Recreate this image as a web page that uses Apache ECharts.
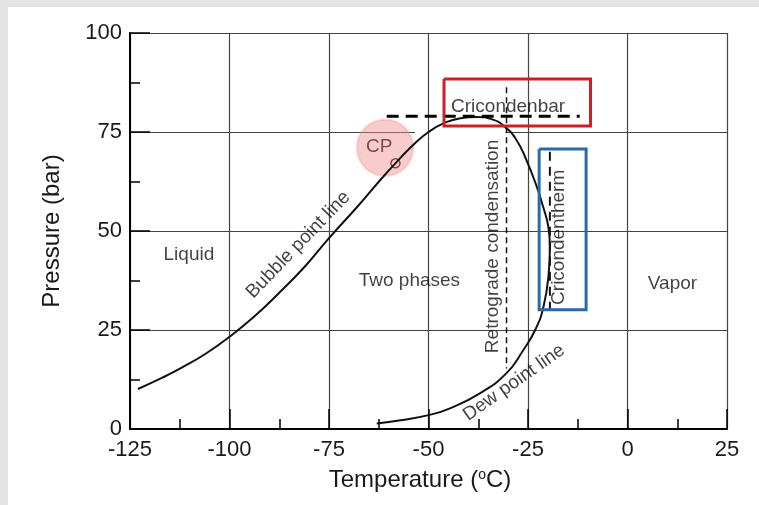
<!DOCTYPE html>
<html>
<head>
<meta charset="utf-8">
<script src="https://cdn.jsdelivr.net/npm/echarts@6/dist/echarts.min.js"></script>
<style>
html, body { margin: 0; padding: 0; background: #e3e3e3; }
#main { position: absolute; left: 8px; top: 7px; width: 751px; height: 498px; background: #fff; }
</style>
</head>
<body>
<div id="main"></div>
<script>
// phase envelope (bubble point line -> cricondenbar -> dew point line)
var envelopeT = [-123, -117, -112, -106, -100, -94, -88, -81, -75, -68, -62, -58.3, -54, -50, -46, -42, -38, -34, -30.8, -27.9, -25.4, -22.8, -21.2, -19.9, -19.5, -19.8, -21.1, -23.2, -26.2, -30.4, -37.1, -44.6, -50, -57, -63];
var envelopeP = [10.1, 12.9, 15.5, 19.0, 23.3, 28.2, 33.9, 41.1, 48.2, 56, 63, 67.1, 71.6, 75, 77.3, 78.5, 78.8, 78.2, 76.3, 73, 67.9, 61.2, 56.1, 51.1, 46, 39.3, 30.9, 25, 19.9, 14.1, 9, 5.2, 3.5, 2.2, 1.4];

var cricondenbarT = [-60.5, -12];
var cricondenbarP = [79, 79];
var retrogradeT = [-30.4, -30.4];
var retrogradeP = [86.3, 15.3];
var cricondenthermT = [-19.5, -19.5];
var cricondenthermP = [70, 28.8];

var redBoxT = [-46.1, -9.3, -9.3, -46.1, -46.1];
var redBoxP = [88.4, 88.4, 76.5, 76.5, 88.4];
var blueBoxT = [-22.2, -10.4, -10.4, -22.2, -22.2];
var blueBoxP = [70.7, 70.7, 30.1, 30.1, 70.7];

// gap in the 75 bar grid line of the original figure
var gapT = [-53.4, -30.6];
var gapP = [75, 75];

var cpPoint = [-58.3, 67.1];
var cpHalo = [-60.9, 71];

var labelText = ['Liquid', 'Two phases', 'Vapor', 'Bubble point line', 'Dew point line', 'Retrograde condensation', 'Cricondentherm', 'Cricondenbar', 'CP'];
var labelT = [-110.2, -54.8, 11.3, -82.7, -28.5, -33.8, -17.3, -30.0, -62.4];
var labelP = [43.9, 37.4, 36.7, 46.5, 11.7, 46.1, 48.4, 81.4, 71.2];

function zip(xs, ys) {
    return xs.map(function (x, i) { return [x, ys[i]]; });
}

var labelRotate = {
    'Bubble point line': 46,
    'Dew point line': 35,
    'Retrograde condensation': 90,
    'Cricondentherm': 90
};

var labelData = labelText.map(function (t, i) {
    return {
        name: t,
        value: [labelT[i], labelP[i]],
        label: {
            rotate: labelRotate[t] || 0,
            color: t === 'CP' ? '#6a2626' : '#111'
        }
    };
});

var axisFont = 'Liberation Sans, Arial, sans-serif';

var myChart = echarts.init(document.getElementById('main'));
var option = {
    animation: false,
    grid: { left: 122, top: 26, width: 597, height: 396 },
    xAxis: {
        type: 'value',
        min: -125,
        max: 25,
        interval: 25,
        name: '{b|Temperature (}{s|o}{b|C)}',
        nameLocation: 'middle',
        nameGap: 39,
        nameTextStyle: {
            padding: [0, 17, 0, 0],
            rich: {
                b: { fontSize: 24, fontFamily: axisFont, color: '#1a1a1a' },
                s: { fontSize: 14, fontFamily: axisFont, color: '#1a1a1a', verticalAlign: 'top' }
            }
        },
        axisLine: { onZero: false, lineStyle: { color: '#000', width: 2 } },
        axisTick: { inside: true, length: 20, lineStyle: { color: '#000', width: 1.5 } },
        minorTick: { show: true, splitNumber: 2, length: 10, lineStyle: { color: '#000', width: 1.5 } },
        axisLabel: { fontSize: 22, fontFamily: axisFont, color: '#1a1a1a', margin: 10 },
        splitLine: { show: true, lineStyle: { color: '#444', width: 1.2 } }
    },
    yAxis: {
        type: 'value',
        min: 0,
        max: 100,
        interval: 25,
        name: 'Pressure (bar)',
        nameLocation: 'middle',
        nameRotate: 90,
        nameGap: 66,
        nameTextStyle: { fontSize: 24, fontFamily: axisFont, color: '#1a1a1a' },
        axisLine: { onZero: false, lineStyle: { color: '#000', width: 2 } },
        axisTick: { inside: true, length: 20, lineStyle: { color: '#000', width: 1.5 } },
        minorTick: { show: true, splitNumber: 2, length: 10, lineStyle: { color: '#000', width: 1.5 } },
        axisLabel: { fontSize: 22, fontFamily: axisFont, color: '#1a1a1a', margin: 8 },
        splitLine: { show: true, lineStyle: { color: '#444', width: 1.2 } }
    },
    series: [{
        type: 'line',
        data: zip(gapT, gapP),
        symbol: 'none',
        silent: true,
        lineStyle: { color: '#fff', width: 2 }
    }, {
        type: 'scatter',
        data: [cpHalo],
        symbolSize: 56,
        silent: true,
        itemStyle: {
            color: 'rgba(242, 145, 145, 0.45)',
            borderColor: 'rgba(235, 130, 130, 0.35)',
            borderWidth: 2,
            shadowColor: 'rgba(240, 140, 140, 0.4)',
            shadowBlur: 4
        }
    }, {
        name: 'envelope',
        type: 'line',
        data: zip(envelopeT, envelopeP),
        smooth: 0.5,
        symbol: 'none',
        lineStyle: { color: '#111', width: 2 }
    }, {
        type: 'line',
        data: zip(cricondenbarT, cricondenbarP),
        symbol: 'none',
        lineStyle: { color: '#000', width: 3, type: [12, 7] }
    }, {
        type: 'line',
        data: zip(retrogradeT, retrogradeP),
        symbol: 'none',
        lineStyle: { color: '#111', width: 1.5, type: [6, 4] }
    }, {
        type: 'line',
        data: zip(cricondenthermT, cricondenthermP),
        symbol: 'none',
        lineStyle: { color: '#111', width: 2, type: [9, 6] }
    }, {
        type: 'line',
        data: zip(redBoxT, redBoxP),
        symbol: 'none',
        lineStyle: { color: '#cc1f26', width: 3, join: 'miter' }
    }, {
        type: 'line',
        data: zip(blueBoxT, blueBoxP),
        symbol: 'none',
        lineStyle: { color: '#2a6aa8', width: 3, join: 'miter' }
    }, {
        type: 'scatter',
        data: [cpPoint],
        symbol: 'circle',
        symbolSize: 9,
        itemStyle: { color: 'rgba(0,0,0,0)', borderColor: '#6a2626', borderWidth: 1.5 }
    }, {
        type: 'scatter',
        data: labelData,
        symbolSize: 0,
        silent: true,
        label: {
            show: true,
            position: 'inside',
            formatter: '{b}',
            fontSize: 19,
            fontFamily: axisFont,
            align: 'center',
            verticalAlign: 'middle'
        }
    }]
};
myChart.setOption(option);
</script>
</body>
</html>
